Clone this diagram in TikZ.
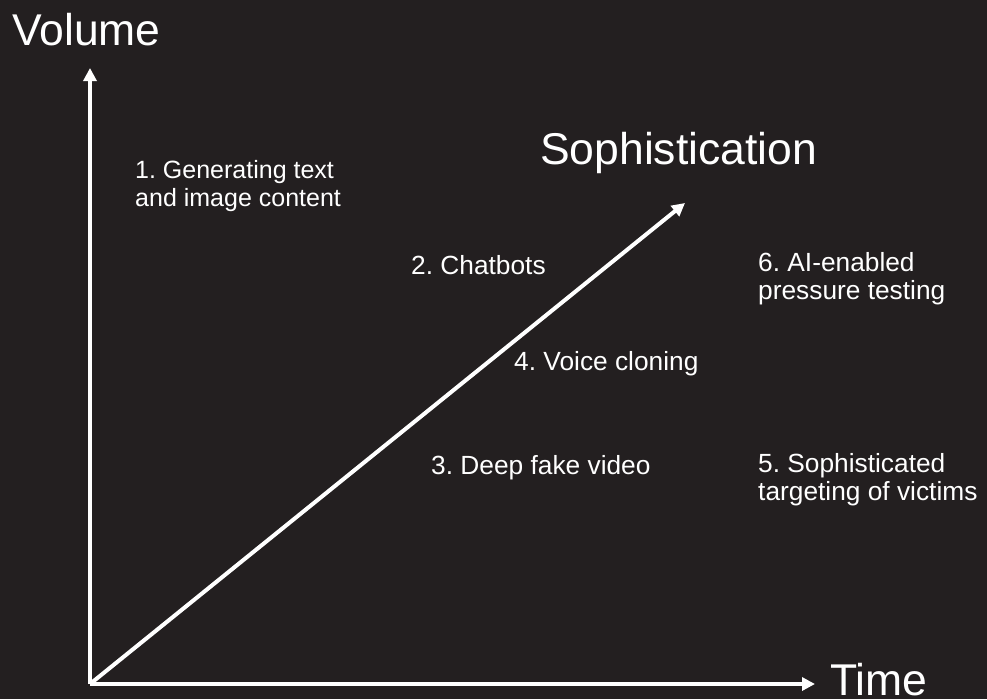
\documentclass[tikz,border=0pt]{standalone}
\usepackage{fontspec}
\setmainfont{Liberation Sans}
\usetikzlibrary{arrows.meta}
\definecolor{bgdark}{HTML}{231F20}
\frenchspacing
\begin{document}
\begin{tikzpicture}[x=1pt,y=-1pt,
  axis/.style={white,line width=4pt,-{Triangle[width=13pt,length=13pt]}},
  title/.style={white,anchor=base west,inner sep=0pt,font=\fontsize{44.5}{48}\selectfont},
  lbl/.style={white,anchor=base west,inner sep=0pt,align=left,font=\fontsize{26.3}{28}\selectfont}]
\fill[bgdark] (0,0) rectangle (987,699);
\useasboundingbox (0,0) rectangle (987,699);
\coordinate (o) at (90,684);
\coordinate (vtip) at (90,68);
\coordinate (htip) at (815,684);
\coordinate (dtip) at (685,203);
\draw[axis] (o) -- (vtip);
\draw[axis] (o) -- (htip);
\draw[axis] (o) -- (dtip);
\node[title] (vol) at (12,45) {Volume};
\node[title] (soph) at (540,164) {Sophistication};
\node[title] (time) at (830,695) {Time};
\node[lbl,font=\fontsize{25}{28}\selectfont] (l1) at (135,206) {1. Generating text\\and image content};
\node[lbl] (l2) at (411,274) {2. Chatbots};
\node[lbl] (l3) at (431,474) {3. Deep fake video};
\node[lbl] (l4) at (514,370) {4. Voice cloning};
\node[lbl] (l5) at (758,500) {5. Sophisticated\\targeting of victims};
\node[lbl] (l6) at (758,299) {6. AI-enabled\\pressure testing};
\end{tikzpicture}
\end{document}
